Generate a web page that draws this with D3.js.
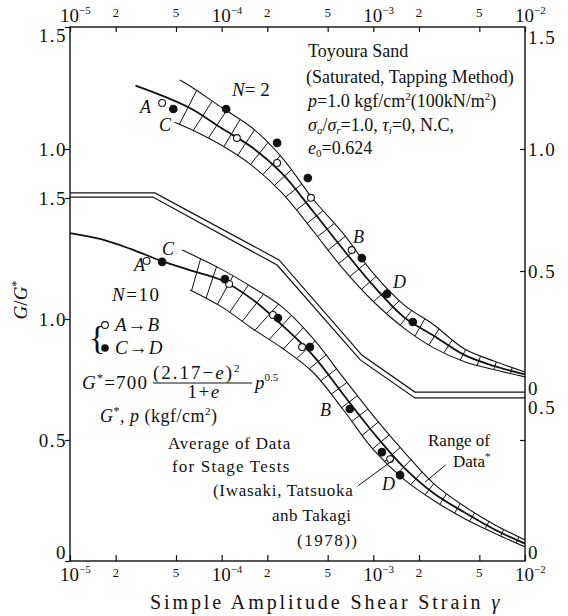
<!DOCTYPE html>
<html><head><meta charset="utf-8">
<script src="https://cdn.jsdelivr.net/npm/d3@7"></script>
<style>
body{margin:0;background:#fff;}
svg text{font-family:"Liberation Serif","Times New Roman",serif;fill:#111;}
</style></head><body>
<svg id="chart" width="568" height="616"></svg>
<script>
// ---------- axis data ----------
const xTicks = [1e-5,2e-5,5e-5,1e-4,2e-4,5e-4,1e-3,2e-3,5e-3,1e-2];
const xTickMain = ["10","2","5","10","2","5","10","2","5","10"];
const xTickExp  = ["−5","","","−4","","","−3","","","−2"];
const yTicksLeftUpper = [1.0,1.5];
const yTicksLower = [0,0.5,1.0,1.5];
const yTicksRightUpper = [0,0.5,1.0,1.5];
const yTickText = {0:"0",0.5:"0.5",1:"1.0",1.5:"1.5"};

// ---------- N = 2 (upper panel) ----------
const n2CenterStrain = [2.7e-5,4e-5,6.3e-5,1e-4,1.6e-4,2.5e-4,4e-4,6.3e-4,1e-3,1.6e-3,2.5e-3,4e-3,6.3e-3,1e-2];
const n2CenterG      = [1.26,1.22,1.165,1.085,1.005,0.9,0.745,0.59,0.44,0.31,0.235,0.155,0.11,0.076];
const n2OuterStrain  = [5.3e-5,6.3e-5,1e-4,1.6e-4,2.5e-4,4e-4,6.3e-4,1e-3,1.6e-3,2.5e-3,4e-3,6.3e-3,1e-2];
const n2OuterG       = [1.283,1.255,1.17,1.085,0.965,0.795,0.655,0.49,0.36,0.28,0.18,0.13,0.086];
const n2InnerStrain  = [4.9e-5,6.3e-5,1e-4,1.6e-4,2.5e-4,4e-4,6.3e-4,1e-3,1.6e-3,2.5e-3,4e-3,6.3e-3,1e-2];
const n2InnerG       = [1.11,1.08,1.015,0.93,0.82,0.665,0.51,0.375,0.265,0.185,0.128,0.095,0.066];
const n2OpenStrain   = [4.05e-5,1.26e-4,2.32e-4,3.88e-4,7.2e-4];
const n2OpenG        = [1.189,1.045,0.943,0.80,0.586];
const n2FilledStrain = [4.8e-5,1.07e-4,2.32e-4,3.7e-4,8.4e-4,1.23e-3,1.82e-3];
const n2FilledG      = [1.164,1.164,1.025,0.881,0.553,0.406,0.291];

// ---------- N = 10 (lower panel) ----------
const n10CenterStrain = [1e-5,1.6e-5,2.5e-5,4e-5,6.3e-5,1e-4,1.6e-4,2.5e-4,4e-4,6.3e-4,1e-3,1.6e-3,2.5e-3,4e-3,6.3e-3,1e-2];
const n10CenterG      = [1.355,1.33,1.29,1.24,1.2,1.16,1.08,0.975,0.85,0.69,0.53,0.385,0.28,0.2,0.13,0.072];
const n10OuterStrain  = [5.5e-5,1e-4,1.6e-4,2.5e-4,4e-4,6.3e-4,1e-3,1.6e-3,2.5e-3,4e-3,6.3e-3,1e-2];
const n10OuterG       = [1.285,1.205,1.13,1.05,0.92,0.76,0.6,0.45,0.32,0.225,0.15,0.087];
const n10InnerStrain  = [6.2e-5,1e-4,1.6e-4,2.5e-4,4e-4,6.3e-4,1e-3,1.6e-3,2.5e-3,4e-3,6.3e-3,1e-2];
const n10InnerG       = [1.12,1.05,0.96,0.88,0.78,0.627,0.46,0.336,0.25,0.175,0.115,0.058];
const n10OpenStrain   = [3.2e-5,1.12e-4,2.18e-4,3.39e-4,1.29e-3];
const n10OpenG        = [1.24,1.145,1.017,0.884,0.421];
const n10FilledStrain = [4.05e-5,1.05e-4,2.35e-4,3.82e-4,7.0e-4,1.14e-3,1.5e-3];
const n10FilledG      = [1.236,1.165,1.004,0.884,0.628,0.45,0.355];

// ---------- separator (double line, lower-panel units) ----------
const sepTopStrain = [1e-5,3.63e-5,2.39e-4,8.4e-4,1.88e-3,1e-2];
const sepTopG      = [1.521,1.521,1.244,0.851,0.698,0.698];
const sepBotStrain = [1e-5,3.52e-5,2.32e-4,8.2e-4,1.88e-3,1e-2];
const sepBotG      = [1.504,1.504,1.223,0.831,0.674,0.674];

// leader lines (lower-panel units)
const leaderAvgStrain = [7.9e-4,1.35e-3];  const leaderAvgG = [0.31,0.417];
const leaderRngStrain = [3.0e-3,2.19e-3];  const leaderRngG = [0.397,0.326];

// ---------- scales ----------
const svg = d3.select("#chart");
const X0=70, X1=525, YT=27, YB=561;
const x  = d3.scaleLog().domain([1e-5,1e-2]).range([X0,X1]);
const yU = d3.scaleLinear().domain([0,1.5]).range([393,27]);
const yL = d3.scaleLinear().domain([0,1.5]).range([561,198]);

svg.append("rect").attr("width",568).attr("height",616).attr("fill","#fff");
svg.append("defs").append("clipPath").attr("id","clip")
  .append("rect").attr("x",X0).attr("y",YT).attr("width",X1-X0).attr("height",YB-YT);
const plot = svg.append("g").attr("clip-path","url(#clip)");

const zip = (xs,ys)=>xs.map((v,i)=>[v,ys[i]]);
function lineGen(ys){ return d3.line().x(d=>x(d[0])).y(d=>ys(d[1])).curve(d3.curveCatmullRom.alpha(0.5)); }
const linL = d3.line().x(d=>x(d[0])).y(d=>yL(d[1]));

// separator double line
plot.append("path").attr("d",linL(zip(sepTopStrain,sepTopG))).attr("fill","none").attr("stroke","#111").attr("stroke-width",1.2);
plot.append("path").attr("d",linL(zip(sepBotStrain,sepBotG))).attr("fill","none").attr("stroke","#111").attr("stroke-width",1.2);

// ---------- helpers for hatched band ----------
function samplePath(d, step){
  const p = svg.append("path").attr("d",d).attr("fill","none").attr("stroke","none");
  const n = p.node(), L = n.getTotalLength(), pts=[];
  for(let s=0;s<=L;s+=step){const q=n.getPointAtLength(s); pts.push([q.x,q.y]);}
  p.remove(); return pts;
}
function intersectRay(P,N,poly){
  let best=null;
  for(let i=0;i<poly.length-1;i++){
    const A=poly[i],B=poly[i+1];
    const ex=B[0]-A[0], ey=B[1]-A[1];
    const den=N[0]*ey-N[1]*ex;
    if(Math.abs(den)<1e-9) continue;
    const ax=A[0]-P[0], ay=A[1]-P[1];
    const t=(ax*ey-ay*ex)/den, u=(N[1]*ax-N[0]*ay)/den;
    if(u>=0&&u<=1&&(best===null||Math.abs(t)<Math.abs(best.t))) best={t,pt:[P[0]+t*N[0],P[1]+t*N[1]]};
  }
  return best;
}
function drawBand(ys, cS,cG, oS,oG, iS,iG, startX, spacing){
  const g = lineGen(ys);
  const dC=g(zip(cS,cG)), dO=g(zip(oS,oG)), dI=g(zip(iS,iG));
  plot.append("path").attr("d",dO).attr("fill","none").attr("stroke","#111").attr("stroke-width",1.1);
  plot.append("path").attr("d",dI).attr("fill","none").attr("stroke","#111").attr("stroke-width",1.1);
  plot.append("path").attr("d",dC).attr("fill","none").attr("stroke","#111").attr("stroke-width",1.8);
  const cPts=samplePath(dC,1), oPts=samplePath(dO,1), iPts=samplePath(dI,1);
  let i0=cPts.findIndex(p=>p[0]>=startX);
  const rungs=[];
  for(let k=i0;k<cPts.length-2;k+=spacing){
    const a=cPts[Math.max(k-2,0)], b=cPts[Math.min(k+2,cPts.length-1)];
    let tx=b[0]-a[0], ty=b[1]-a[1]; const m=Math.hypot(tx,ty); tx/=m; ty/=m;
    const N=[-ty,tx], P=cPts[k];
    const ro=intersectRay(P,N,oPts), ri=intersectRay(P,N,iPts);
    if(ro&&ri&&Math.abs(ro.t)<30&&Math.abs(ri.t)<30) rungs.push([ri.pt,ro.pt]);
  }
  plot.selectAll(null).data(rungs).enter().append("line")
    .attr("x1",d=>d[0][0]).attr("y1",d=>d[0][1]).attr("x2",d=>d[1][0]).attr("y2",d=>d[1][1])
    .attr("stroke","#111").attr("stroke-width",1);
}
drawBand(yU, n2CenterStrain,n2CenterG, n2OuterStrain,n2OuterG, n2InnerStrain,n2InnerG, 188, 17);
drawBand(yL, n10CenterStrain,n10CenterG, n10OuterStrain,n10OuterG, n10InnerStrain,n10InnerG, 196, 17);

// points
function drawPoints(ys, S, G, filled){
  plot.selectAll(null).data(zip(S,G)).enter().append("circle")
    .attr("cx",d=>x(d[0])).attr("cy",d=>ys(d[1])).attr("r",filled?3.8:3.4)
    .attr("fill",filled?"#111":"#fff").attr("stroke","#111").attr("stroke-width",1.1);
}
drawPoints(yU,n2OpenStrain,n2OpenG,false);
drawPoints(yU,n2FilledStrain,n2FilledG,true);
drawPoints(yL,n10OpenStrain,n10OpenG,false);
drawPoints(yL,n10FilledStrain,n10FilledG,true);

// leader lines
plot.append("path").attr("d",linL(zip(leaderAvgStrain,leaderAvgG))).attr("stroke","#111").attr("stroke-width",1);
plot.append("path").attr("d",linL(zip(leaderRngStrain,leaderRngG))).attr("stroke","#111").attr("stroke-width",1);

// ---------- frame & axes ----------
svg.append("rect").attr("x",X0).attr("y",YT).attr("width",X1-X0).attr("height",YB-YT)
  .attr("fill","none").attr("stroke","#111").attr("stroke-width",1.4);

function clean(g){ g.select(".domain").remove(); g.selectAll(".tick line").attr("stroke","#111").attr("stroke-width",1.2); g.selectAll(".tick text").remove(); }
svg.append("g").attr("transform",`translate(0,${YB})`).call(d3.axisBottom(x).tickValues(xTicks).tickSizeInner(-6).tickSizeOuter(0)).call(clean);
svg.append("g").attr("transform",`translate(0,${YT})`).call(d3.axisTop(x).tickValues(xTicks).tickSizeInner(-5).tickSizeOuter(0)).call(clean);
svg.append("g").attr("transform",`translate(${X0},0)`).call(d3.axisLeft(yU).tickValues(yTicksLeftUpper).tickSizeInner(5).tickSizeOuter(0)).call(clean);
svg.append("g").attr("transform",`translate(${X0},0)`).call(d3.axisLeft(yL).tickValues(yTicksLower).tickSizeInner(5).tickSizeOuter(0)).call(clean);
svg.append("g").attr("transform",`translate(${X1},0)`).call(d3.axisRight(yU).tickValues([0.5,1.0]).tickSizeInner(-5).tickSizeOuter(0)).call(clean);
svg.append("g").attr("transform",`translate(${X1},0)`).call(d3.axisRight(yL).tickValues([0.5]).tickSizeInner(-5).tickSizeOuter(0)).call(clean);

// x tick labels (top and bottom)
function xLabels(baseMajor, baseMinor){
  xTicks.forEach((t,i)=>{
    if(xTickExp[i]){
      const tx=svg.append("text").attr("x",x(t)-10).attr("y",baseMajor).attr("font-size",19);
      tx.append("tspan").text(xTickMain[i]);
      tx.append("tspan").attr("font-size",11).attr("dy",-8).text(xTickExp[i]);
    } else {
      svg.append("text").attr("x",x(t)).attr("y",baseMinor).attr("font-size",13).attr("text-anchor","middle").text(xTickMain[i]);
    }
  });
}
xLabels(22,17);
xLabels(581,577);

// y tick labels
function yLab(xp, anchor, yp, v){
  svg.append("text").attr("x",xp).attr("y",yp).attr("dy","0.35em").attr("text-anchor",anchor)
    .attr("font-size",19).attr("letter-spacing",1.5).text(yTickText[v]);
}
yLab(67,"end",Math.max(yU(1.5),35),1.5); yLab(67,"end",yU(1.0),1.0);
yTicksLower.forEach(v=>yLab(67,"end",Math.min(yL(v),552),v));
yTicksRightUpper.forEach(v=>yLab(528,"start",Math.min(Math.max(yU(v),37),388),v));
yLab(528,"start",yU(0)+14,0.5);
yLab(528,"start",Math.min(yL(0),552),0);

// axis titles
svg.append("text").attr("transform","translate(27,300) rotate(-90)").attr("text-anchor","middle")
  .attr("font-size",19).html('<tspan font-style="italic">G</tspan>/<tspan font-style="italic">G</tspan><tspan font-size="12" dy="-7">*</tspan>');
svg.append("text").attr("x",150).attr("y",609).attr("font-size",20).attr("letter-spacing",2.9)
  .html('Simple Amplitude Shear Strain <tspan font-style="italic">γ</tspan>');

// ---------- annotations ----------
function T(xp,yp,html,size,ls){ return svg.append("text").attr("x",xp).attr("y",yp).attr("font-size",size||18).attr("letter-spacing",ls||0).html(html); }
T(308,57,'Toyoura Sand');
T(306,83,'(Saturated, Tapping Method)');
T(308,107,'<tspan font-style="italic">p</tspan>=1.0 kgf/cm<tspan font-size="11" dy="-7">2</tspan><tspan dy="7">(100kN/m</tspan><tspan font-size="11" dy="-7">2</tspan><tspan dy="7">)</tspan>');
T(308,131,'<tspan font-style="italic">σ</tspan><tspan font-size="11" dy="3" font-style="italic">a</tspan><tspan dy="-3">/</tspan><tspan font-style="italic">σ</tspan><tspan font-size="11" dy="3" font-style="italic">r</tspan><tspan dy="-3">=1.0,  </tspan><tspan font-style="italic">τ</tspan><tspan font-size="11" dy="3" font-style="italic">i</tspan><tspan dy="-3">=0,  N.C,</tspan>');
T(308,154,'<tspan font-style="italic">e</tspan><tspan font-size="11" dy="3">0</tspan><tspan dy="-3">=0.624</tspan>');

T(232,96,'<tspan font-style="italic">N</tspan>= 2',19);
T(140,113,'<tspan font-style="italic">A</tspan>');
T(159,131,'<tspan font-style="italic">C</tspan>');
T(353,243,'<tspan font-style="italic">B</tspan>');
T(393,288,'<tspan font-style="italic">D</tspan>');

T(162,255,'<tspan font-style="italic">C</tspan>');
T(134,271,'<tspan font-style="italic">A</tspan>');
T(320,416,'<tspan font-style="italic">B</tspan>');
T(382,490,'<tspan font-style="italic">D</tspan>');

T(112,301,'<tspan font-style="italic">N</tspan>=10',19,1.5);
T(89,349,'{',34);
svg.append("circle").attr("cx",105).attr("cy",325).attr("r",3.4).attr("fill","#fff").attr("stroke","#111").attr("stroke-width",1.1);
svg.append("circle").attr("cx",105).attr("cy",348).attr("r",3.8).attr("fill","#111");
T(115,331,'<tspan font-style="italic">A</tspan>→<tspan font-style="italic">B</tspan>',19,1);
T(115,354,'<tspan font-style="italic">C</tspan>→<tspan font-style="italic">D</tspan>',19,1);

T(82,389,'<tspan font-style="italic">G</tspan><tspan font-size="12" dy="-7">*</tspan><tspan dy="7">=700</tspan>',19,1.2);
T(153,379,'(2.17−<tspan font-style="italic">e</tspan>)<tspan font-size="11" dy="-7">2</tspan>',19,2);
svg.append("line").attr("x1",153).attr("x2",252).attr("y1",383).attr("y2",383).attr("stroke","#111").attr("stroke-width",1.1);
T(204,398,'1+<tspan font-style="italic">e</tspan>',19,1.5).attr("text-anchor","middle");
T(255,389,'<tspan font-style="italic">p</tspan><tspan font-size="11" dy="-8">0.5</tspan>',19);
T(100,422,'<tspan font-style="italic">G</tspan><tspan font-size="12" dy="-7">*</tspan><tspan dy="7">, </tspan><tspan font-style="italic">p</tspan>  (kgf/cm<tspan font-size="11" dy="-7">2</tspan><tspan dy="7">)</tspan>',18,0.5);

T(168,449,'Average of Data',17,0.8);
T(172,472,'for Stage Tests',17,1.2);
T(213,496,'(Iwasaki, Tatsuoka',17,0.7);
T(272,521,'anb Takagi',17,0.5);
T(297,546,'(1978))',17,1.5);
T(428,446,'Range of',17);
T(453,467,'Data<tspan font-size="11" dy="-7">*</tspan>',17);
</script>
</body></html>
